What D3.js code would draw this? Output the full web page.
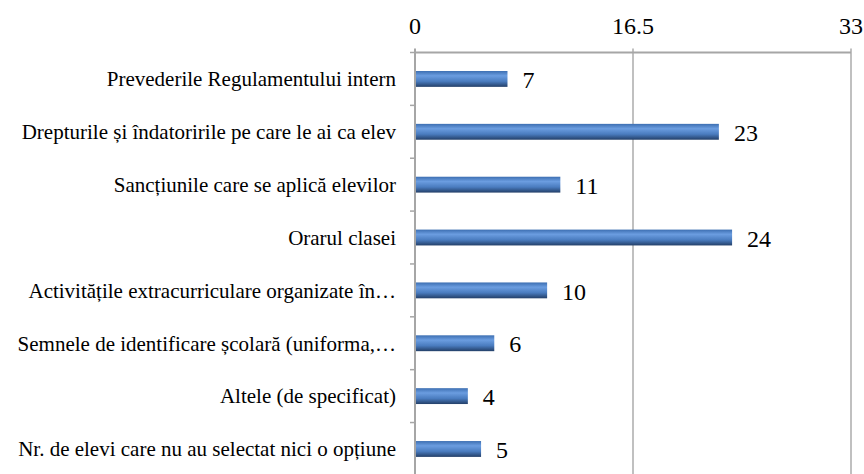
<!DOCTYPE html>
<html>
<head>
<meta charset="utf-8">
<script src="https://cdn.jsdelivr.net/npm/d3@7"></script>
<style>
  body { margin: 0; background: #fff; }
  svg { display: block; }
</style>
</head>
<body>
<svg id="chart" width="864" height="474"></svg>
<script>

// categories and counts, top to bottom
const categories = [
    "Prevederile Regulamentului intern",
    "Drepturile și îndatoririle pe care le ai ca elev",
    "Sancțiunile care se aplică elevilor",
    "Orarul clasei",
    "Activitățile extracurriculare organizate în…",
    "Semnele de identificare școlară (uniforma,…",
    "Altele (de specificat)",
    "Nr. de elevi care nu au selectat nici o opțiune"
];
const counts = [7, 23, 11, 24, 10, 6, 4, 5];
const tickValues = [0, 16.5, 33];


function draw_chart( doc_id ){

    let svg = d3.select(doc_id);

    let left = 415, right = 851, top = 52.5, bottom = 475.4;

    let x = d3.scaleLinear().domain([0, 33]).range([left, right]);
    let y = d3.scaleBand().domain(categories).range([top, bottom]).paddingInner(0.7).paddingOuter(0.35);

    // bar gradient
    let defs = svg.append("defs");
    let grad = defs.append("linearGradient")
        .attr("id", "barGrad")
        .attr("x1", 0).attr("y1", 0).attr("x2", 0).attr("y2", 1);
    grad.append("stop").attr("offset", "0%").attr("stop-color", "#3d6fb2");
    grad.append("stop").attr("offset", "30%").attr("stop-color", "#6b9de0");
    grad.append("stop").attr("offset", "65%").attr("stop-color", "#4a7cbf");
    grad.append("stop").attr("offset", "100%").attr("stop-color", "#233f68");

    // vertical grid lines
    svg.append("g").selectAll("line")
        .data(tickValues.slice(1))
        .enter().append("line")
            .attr("x1", d => x(d)).attr("x2", d => x(d))
            .attr("y1", top - 4).attr("y2", 474)
            .attr("stroke", "#c0c0c0")
            .attr("stroke-width", 2);

    // top axis line
    svg.append("line")
        .attr("x1", left).attr("x2", right)
        .attr("y1", top).attr("y2", top)
        .attr("stroke", "#a6a6a6")
        .attr("stroke-width", 2);

    // top tick labels
    svg.append("g").selectAll("text")
        .data(tickValues)
        .enter().append("text")
            .attr("x", d => x(d))
            .attr("y", 34)
            .attr("text-anchor", "middle")
            .attr("font-family", "Liberation Serif")
            .style("font-size", "24px")
            .style("fill", "#000")
            .text(d => d);

    // left category axis with ticks on band boundaries
    svg.append("line")
        .attr("x1", left).attr("x2", left)
        .attr("y1", top - 4).attr("y2", 474)
        .attr("stroke", "#a6a6a6")
        .attr("stroke-width", 2);

    let step = y.step();
    svg.append("g").selectAll("line")
        .data(d3.range(categories.length + 1))
        .enter().append("line")
            .attr("x1", left - 5).attr("x2", left)
            .attr("y1", i => top + i*step).attr("y2", i => top + i*step)
            .attr("stroke", "#a6a6a6")
            .attr("stroke-width", 1.5);

    // category labels
    svg.append("g").selectAll("text")
        .data(categories)
        .enter().append("text")
            .attr("x", left - 19)
            .attr("y", d => y(d) + y.bandwidth()/2)
            .attr("dy", ".35em")
            .attr("text-anchor", "end")
            .attr("font-family", "Liberation Serif")
            .style("font-size", "21px")
            .style("fill", "#000")
            .text(d => d);

    // bars
    svg.append("g").selectAll("rect")
        .data(counts)
        .enter().append("rect")
            .attr("x", x(0) + 1)
            .attr("y", (d, i) => y(categories[i]))
            .attr("width", d => x(d) - x(0) - 1)
            .attr("height", y.bandwidth())
            .attr("fill", "url(#barGrad)");

    // value labels
    svg.append("g").selectAll("text")
        .data(counts)
        .enter().append("text")
            .attr("x", d => x(d) + 15)
            .attr("y", (d, i) => y(categories[i]) + y.bandwidth()/2)
            .attr("dy", ".38em")
            .attr("font-family", "Liberation Serif")
            .style("font-size", "24px")
            .style("fill", "#000")
            .text(d => d);
}

draw_chart("#chart");

</script>
</body>
</html>
